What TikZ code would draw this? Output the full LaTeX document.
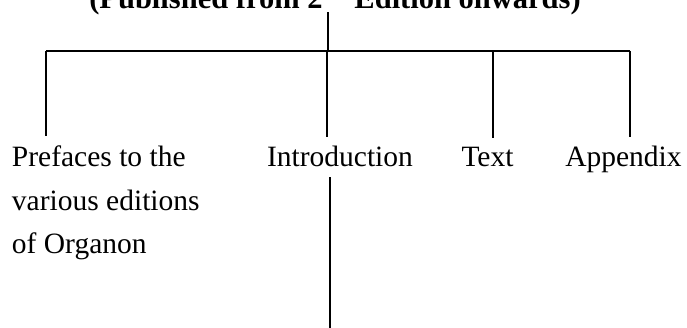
\documentclass[tikz,border=0pt]{standalone}
\usepackage{fontspec}
\setmainfont{Liberation Serif}
\begin{document}
\begin{tikzpicture}[x=1pt,y=-1pt,line width=1.6pt,
  lbl/.style={font=\fontsize{29.5}{43.5}\selectfont,inner sep=0pt,outer xsep=0pt,outer ysep=10pt,align=left},
  ttl/.style={font=\bfseries\fontsize{30.5}{34}\selectfont,inner sep=0pt,anchor=base}]
\clip (0,0) rectangle (687,328);
\node[ttl] (title) at (335,8.5) {(Published from 2\textsuperscript{nd} Edition onwards)};
\coordinate (top) at (328,12.5);
\coordinate (hub) at (328,51);
\coordinate (d1) at (46,51);
\coordinate (d2) at (327,51);
\coordinate (d3) at (493,51);
\coordinate (d4) at (630,51);
\coordinate (bot) at (330,328);
\node[lbl,anchor=base west] (pref) at (12,254) {Prefaces to the\\various editions\\of Organon};
\node[lbl,anchor=base] (intro) at (340,167) {Introduction};
\node[lbl,anchor=base] (text) at (487.5,167) {Text};
\node[lbl,anchor=base] (app) at (623.5,167) {Appendix};
\draw (top) -- (hub);
\draw (d1) -- (d4);
\draw (d1) -- (d1 |- pref.north);
\draw (d2) -- (d2 |- intro.north);
\draw (d3) -- (d3 |- text.north);
\draw (d4) -- (d4 |- app.north);
\draw (bot |- intro.south) -- (bot);
\end{tikzpicture}
\end{document}
